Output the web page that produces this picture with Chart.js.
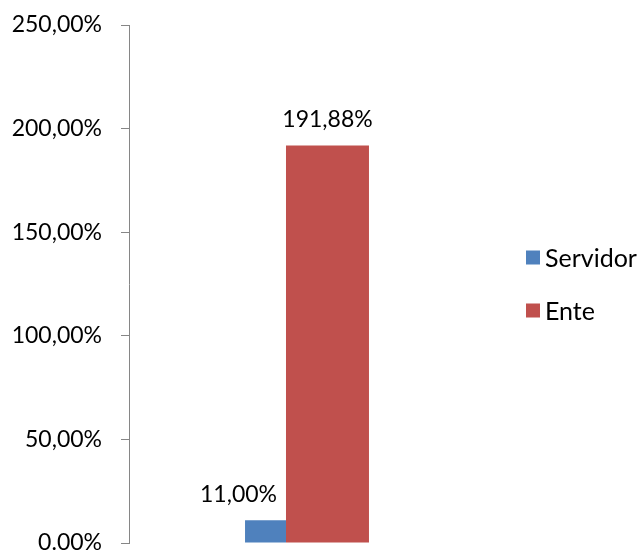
<!DOCTYPE html>
<html>
<head>
<meta charset="utf-8">
<script src="https://cdn.jsdelivr.net/npm/chart.js@4/dist/chart.umd.min.js"></script>
<style>
	html, body { margin: 0; padding: 0; background: #fff; }
	#wrap { width: 640px; height: 551px; }
</style>
</head>
<body>
<div id="wrap"><canvas id="myChart"></canvas></div>
<script>
	var categorias = [ '' ];
	var servidor = [ 11.00 ];
	var ente = [ 191.88 ];
	var seriesNomes = [ 'Servidor', 'Ente' ];
	var cores = [ '#4F81BD', '#C0504D' ];
	var yTicks = [ 0, 50, 100, 150, 200, 250 ];

	var fonte = 'Lato, "Noto Sans", sans-serif';

	function pct(v) {
		if (v === 0) return '0.00%';
		return v.toFixed(2).replace('.', ',') + '%';
	}

	// rotulos de valor acima das barras
	var rotulos = {
		id : 'rotulos',
		afterDatasetsDraw : function(chart) {
			var ctx = chart.ctx;
			var dx = [ -27, 0 ];
			ctx.save();
			ctx.font = '23px ' + fonte;
			ctx.fillStyle = '#000';
			ctx.textAlign = 'center';
			ctx.textBaseline = 'alphabetic';
			chart.data.datasets.forEach(function(ds, i) {
				chart.getDatasetMeta(i).data.forEach(function(bar, j) {
					ctx.fillText(pct(ds.data[j]), bar.x + dx[i], bar.y - 18);
				});
			});
			ctx.restore();
		}
	};

	// legenda à direita
	var legenda = {
		id : 'legenda',
		afterDraw : function(chart) {
			var ctx = chart.ctx;
			var a = chart.chartArea;
			var x = a.right + 62;
			var meio = (a.top + a.bottom) / 2;
			ctx.save();
			ctx.font = '25px ' + fonte;
			ctx.textBaseline = 'middle';
			ctx.textAlign = 'left';
			chart.data.datasets.forEach(function(ds, i) {
				var y = meio - 26.5 + i * 53;
				ctx.fillStyle = ds.backgroundColor;
				ctx.fillRect(x, y - 7, 14, 14);
				ctx.fillStyle = '#000';
				ctx.fillText(ds.label, x + 19, y + 1);
			});
			ctx.restore();
		}
	};

	var ctx = document.getElementById('myChart');
	var myChart = new Chart(ctx, {
		type : 'bar',
		data : {
			labels : categorias,
			datasets : [ {
				label : seriesNomes[0],
				data : servidor,
				backgroundColor : cores[0],
				categoryPercentage : 0.37,
				barPercentage : 0.661
			}, {
				label : seriesNomes[1],
				data : ente,
				backgroundColor : cores[1],
				categoryPercentage : 0.37,
				barPercentage : 1.339
			} ]
		},
		options : {
			responsive : true,
			maintainAspectRatio : false,
			animation : false,
			layout : {
				padding : { top : 25, bottom : 8, left : 0, right : 176 }
			},
			plugins : {
				legend : { display : false },
				tooltip : { enabled : false }
			},
			scales : {
				x : { display : false },
				y : {
					min : 0,
					max : 250,
					afterBuildTicks : function(scale) {
						scale.ticks = yTicks.map(function(v) { return { value : v }; });
					},
					afterFit : function(scale) {
						scale.width = 129;
						scale.paddingTop = 0;
						scale.paddingBottom = 0;
					},
					border : { color : '#868686', width : 1 },
					grid : {
						drawOnChartArea : false,
						tickLength : 8,
						color : '#868686'
					},
					ticks : {
						padding : 19,
						color : '#000',
						font : { family : fonte, size : 23 },
						callback : function(v) { return pct(v); }
					}
				}
			}
		},
		plugins : [ rotulos, legenda ]
	});
</script>
</body>
</html>
